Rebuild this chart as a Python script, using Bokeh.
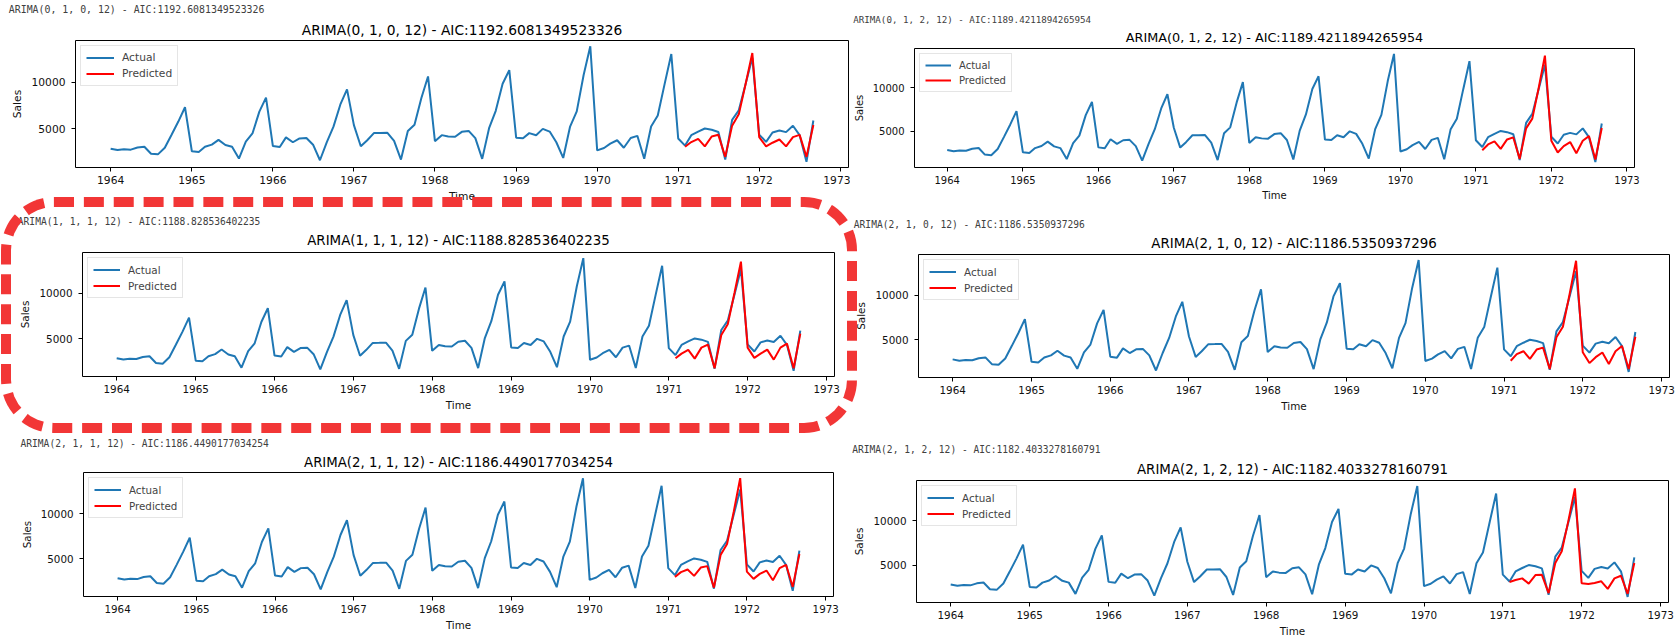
import pandas as pd
from bokeh.plotting import figure
from bokeh.layouts import row, column
from bokeh.models import (Range1d, FixedTicker, DatetimeTickFormatter, Title,
                          Legend, InlineStyleSheet)
from bokeh.embed import file_html
from bokeh.resources import INLINE

# ---------------- data ----------------
actual_start = "1964-01-01"
actual_sales = [
    2815, 2672, 2755, 2721, 2946, 3036, 2282, 2212, 2922, 4301, 5764, 7312,
    2541, 2475, 3031, 3266, 3776, 3230, 3028, 1759, 3595, 4474, 6838, 8357,
    3113, 3006, 4047, 3523, 3937, 3986, 3260, 1573, 3528, 5211, 7614, 9254,
    5375, 3088, 3718, 4514, 4520, 4539, 3663, 1643, 4739, 5428, 8314, 10651,
    3633, 4292, 4154, 4121, 4647, 4753, 3965, 1723, 5048, 6922, 9858, 11331,
    4016, 3957, 4510, 4276, 4968, 4677, 3523, 1821, 5222, 6872, 10803, 13916,
    2639, 2899, 3370, 3740, 2927, 3986, 4217, 1738, 5221, 6424, 9842, 13076,
    3934, 3162, 4286, 4676, 5010, 4874, 4633, 1659, 5951, 6981, 9851, 12670,
    4348, 3564, 4577, 4788, 4618, 5312, 4298, 1413, 5877,
]
pred_start = "1971-02-01"
pred_010 = [3041, 3544, 3897, 3073, 4144, 4326, 1938, 5321, 6542, 9860, 13180,
            4079, 3073, 3469, 3822, 3073, 4079, 4326, 1938, 5396]
pred_012 = [2791, 3450, 3800, 2946, 4031, 4264, 1783, 5311, 6434, 10000, 13723,
            3877, 2520, 3256, 3722, 2442, 3877, 4419, 1706, 5350]
pred_111 = [2815, 3325, 3735, 2771, 3990, 4323, 1707, 5398, 6584, 10050, 13523,
            3990, 2849, 3325, 3769, 2660, 3990, 4434, 1707, 5542]
pred_210 = [2657, 3395, 3727, 2878, 3911, 4133, 1735, 5277, 6457, 10100, 13838,
            3616, 2398, 3063, 3579, 2288, 3727, 4317, 1735, 5350]
pred_211 = [2966, 3490, 3780, 3077, 4003, 4159, 1773, 5385, 6612, 10200, 13926,
            3557, 2743, 3300, 3668, 2598, 3936, 4304, 1851, 5497]
pred_212 = [3100, 3321, 3506, 2915, 3875, 3911, 1845, 5240, 6568, 10050, 13653,
            2952, 2878, 2989, 3173, 2325, 3506, 3801, 1771, 5240]
orders = ["(0, 1, 0, 12)", "(0, 1, 2, 12)", "(1, 1, 1, 12)",
          "(2, 1, 0, 12)", "(2, 1, 1, 12)", "(2, 1, 2, 12)"]
aics = ["1192.6081349523326", "1189.4211894265954", "1188.828536402235",
        "1186.5350937296", "1186.4490177034254", "1182.4033278160791"]
preds = [pred_010, pred_012, pred_111, pred_210, pred_211, pred_212]
year_ticks = list(range(1964, 1974))
y_ticks = [5000, 10000]

# ---------------- layout / style ----------------
# canvas origin (ox, oy) in window px; w, h canvas; borders; s = font scale;
# lx, ly = small label start / centre; ty = title centre (window px)
specs = [
    dict(ox=0, oy=0, w=850, h=205, bl=75, br=2, bt=40, bb=37, s=1.03,
         lx=8.3, ly=8.3, ty=29.0),
    dict(ox=850, oy=0, w=825, h=204, bl=63, br=41, bt=48, bb=37, s=0.957,
         lx=851.7, ly=18.3, ty=37.3),
    dict(ox=0, oy=205, w=850, h=208, bl=82, br=16, bt=47, bb=37, s=1.0,
         lx=17.3, ly=221.0, ty=240.0),
    dict(ox=850, oy=204, w=825, h=210, bl=68, br=6, bt=50, bb=36, s=1.0,
         lx=853.3, ly=223.3, ty=242.7),
    dict(ox=0, oy=413, w=850, h=226, bl=83, br=17, bt=59, bb=43, s=0.995,
         lx=20.0, ly=441.7, ty=461.7),
    dict(ox=850, oy=414, w=825, h=225, bl=66, br=7, bt=66, bb=35, s=1.0,
         lx=851.7, ly=449.0, ty=468.3),
]

FONT = "DejaVu Sans"
MONO = "DejaVu Sans Mono"
EM = 1.164

months = pd.date_range(actual_start, periods=len(actual_sales), freq="MS")
pmonths = pd.date_range(pred_start, periods=len(pred_010), freq="MS")
span = months[-1] - months[0]
x0 = months[0] - span * 0.05
x1 = months[-1] + span * 0.05
tick_ms = [pd.Timestamp(f"{y}-01-01").value // 10**6 for y in year_ticks]


def make_panel(i):
    sp = specs[i]
    s = sp["s"]
    pred = preds[i]
    allv = actual_sales + pred
    lo, hi = min(allv), max(allv)
    pad = 0.05 * (hi - lo)
    p = figure(width=sp["w"], height=sp["h"], x_axis_type="datetime",
               x_range=Range1d(x0, x1), y_range=Range1d(lo - pad, hi + pad),
               output_backend="svg", toolbar_location=None, title=None,
               min_border_left=sp["bl"], min_border_right=sp["br"],
               min_border_top=sp["bt"], min_border_bottom=sp["bb"])
    p.frame_align = False
    p.background_fill_color = "white"
    p.border_fill_color = "white"
    p.outline_line_color = "black"
    p.outline_line_width = 1
    p.xgrid.visible = False
    p.ygrid.visible = False

    r1 = p.line(months, actual_sales, line_color="#1f77b4", line_width=2)
    r2 = p.line(pmonths, pred, line_color="red", line_width=2)

    fs = f"{10.4 * s:.1f}px"
    for ax in (p.xaxis[0], p.yaxis[0]):
        ax.axis_line_color = None
        ax.major_tick_line_color = "black"
        ax.major_tick_out = 4
        ax.major_tick_in = 0
        ax.minor_tick_line_color = None
        ax.major_label_text_font = FONT
        ax.major_label_text_font_size = fs
        ax.major_label_text_color = "#111111"
        ax.axis_label_text_font = FONT
        ax.axis_label_text_font_size = fs
        ax.axis_label_text_font_style = "normal"
        ax.axis_label_text_color = "#111111"
    p.xaxis.ticker = FixedTicker(ticks=tick_ms)
    p.xaxis.formatter = DatetimeTickFormatter(years="%Y", months="%Y", days="%Y",
                                              hours="%Y", hourmin="%Y")
    p.xaxis.major_label_standoff = 4
    p.xaxis.axis_label_standoff = 3
    p.xaxis.axis_label = "Time"
    p.yaxis.ticker = FixedTicker(ticks=y_ticks)
    p.yaxis.major_label_standoff = 6
    p.yaxis.axis_label_standoff = 5
    p.yaxis.axis_label = "Sales"

    leg = Legend(items=[("Actual", [r1]), ("Predicted", [r2])], location="top_left",
                 margin=5, padding=int(round(5 * s)), spacing=3,
                 glyph_width=int(round(27 * s)), glyph_height=int(round(13 * s)),
                 label_height=int(round(13 * s)), label_standoff=int(round(8 * s)),
                 label_text_font=FONT, label_text_font_size=fs,
                 border_line_color="#cccccc", border_line_width=1,
                 background_fill_color="white", background_fill_alpha=0.8)
    p.add_layout(leg)

    title = f"ARIMA{orders[i]} - AIC:{aics[i]}"
    ft = sp["oy"] + sp["bt"]
    f1 = 13.4 * s
    f2 = 9.6 * s
    h1 = EM * f1
    h2 = EM * f2
    d1 = ft - sp["ty"]
    d2 = ft - sp["ly"]
    s1 = max(0.0, 2 * d1 - h1)
    p1 = 2 + h1 + s1
    s2 = max(0.0, 2 * (d2 - p1 - 1) - h2)
    p.add_layout(Title(text=title, align="center", vertical_align="bottom",
                       standoff=s1, text_font=FONT, text_font_size=f"{f1:.1f}px",
                       text_font_style="normal", text_color="black"), "above")
    p.add_layout(Title(text=title, align="left", vertical_align="middle",
                       standoff=s2, offset=sp["lx"] - sp["ox"] - sp["bl"],
                       text_font=MONO, text_font_size=f"{f2:.1f}px",
                       text_font_style="normal", text_color="#404040"), "above")
    return p


figs = [make_panel(i) for i in range(6)]

# dashed highlight around the middle-left panel (outer box, relative to its canvas)
box_css = """
:host { position: relative; overflow: visible; }
:host::after {
  content: "";
  position: absolute;
  box-sizing: border-box;
  left: 0.5px; top: -8.3px; width: 856.5px; height: 236.6px;
  border: 10.5px dashed #f23636;
  border-radius: 53px;
  pointer-events: none;
  z-index: 10;
}
"""
figs[2].stylesheets = [InlineStyleSheet(css=box_css)]

layout = row(column(figs[0], figs[2], figs[4]), column(figs[1], figs[3], figs[5]))

open("out.html", "w").write(file_html(layout, INLINE))
